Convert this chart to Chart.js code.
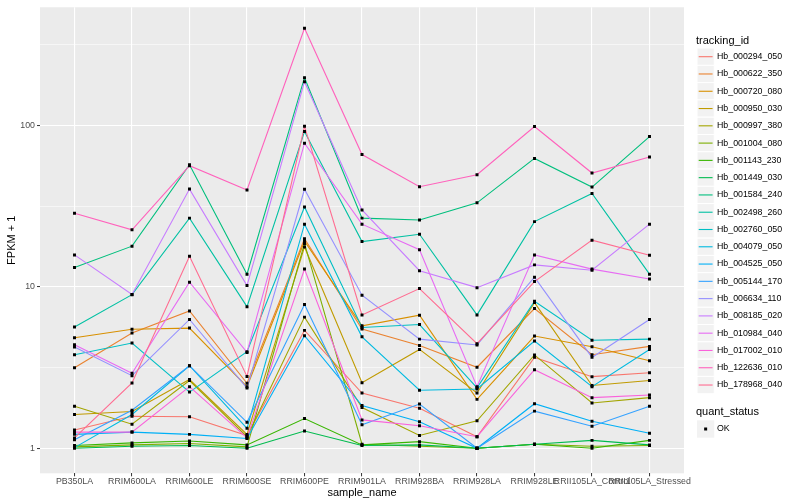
<!DOCTYPE html>
<html>
<head>
<meta charset="utf-8">
<script src="https://cdn.jsdelivr.net/npm/chart.js@4.4.0/dist/chart.umd.min.js"></script>
<style>
  html, body { margin: 0; padding: 0; background: #fff; }
  #wrap { width: 800px; height: 500px; }
</style>
</head>
<body>
<div id="wrap"><canvas id="myChart" width="800" height="500"></canvas></div>
<script>
// samples along the x axis
const categories = ['PB350LA', 'RRIM600LA', 'RRIM600LE', 'RRIM600SE', 'RRIM600PE', 'RRIM901LA',
  'RRIM928BA', 'RRIM928LA', 'RRIM928LE', 'RRII105LA_Control', 'RRII105LA_Stressed'];

const trackingIds = ['Hb_000294_050', 'Hb_000622_350', 'Hb_000720_080', 'Hb_000950_030', 'Hb_000997_380',
  'Hb_001004_080', 'Hb_001143_230', 'Hb_001449_030', 'Hb_001584_240', 'Hb_002498_260',
  'Hb_002760_050', 'Hb_004079_050', 'Hb_004525_050', 'Hb_005144_170', 'Hb_006634_110',
  'Hb_008185_020', 'Hb_010984_040', 'Hb_017002_010', 'Hb_122636_010', 'Hb_178968_040'];

// FPKM + 1, one row per tracking_id, one value per sample
const fpkmPlusOne = [
  [1.30, 1.58, 1.57, 1.20, 5.38, 2.20, 1.77, 1.18, 3.66, 2.78, 2.94],
  [3.16, 5.18, 7.10, 2.53, 19.9, 5.48, 4.34, 3.18, 7.35, 3.80, 4.28],
  [4.84, 5.47, 5.56, 2.41, 19.2, 5.74, 6.68, 2.01, 4.96, 4.26, 3.49],
  [1.62, 1.69, 2.67, 1.22, 17.7, 2.55, 4.10, 2.20, 8.00, 2.45, 2.63],
  [1.82, 1.41, 2.63, 1.18, 6.50, 1.79, 1.20, 1.48, 3.79, 1.91, 2.06],
  [1.02, 1.05, 1.07, 1.02, 18.6, 1.06, 1.03, 1.00, 1.06, 1.03, 1.04],
  [1.04, 1.08, 1.11, 1.05, 1.53, 1.05, 1.10, 1.00, 1.06, 1.00, 1.12],
  [1.00, 1.03, 1.04, 1.00, 1.28, 1.04, 1.05, 1.00, 1.06, 1.12, 1.05],
  [13.2, 17.9, 57.2, 12.0, 198, 26.7, 26.0, 33.2, 62.6, 41.6, 85.5],
  [5.64, 8.96, 26.7, 7.55, 91.8, 19.1, 21.2, 6.71, 25.4, 38.0, 12.0],
  [3.80, 4.49, 2.23, 3.97, 31.3, 5.61, 5.85, 2.37, 8.16, 4.67, 4.75],
  [1.01, 1.62, 3.25, 1.33, 24.5, 4.91, 2.29, 2.33, 4.62, 2.41, 4.10],
  [1.22, 1.26, 1.22, 1.15, 4.99, 1.84, 1.46, 1.00, 1.89, 1.47, 1.24],
  [1.13, 1.72, 3.25, 1.45, 7.78, 1.40, 1.88, 1.00, 1.70, 1.37, 1.82],
  [4.24, 2.82, 6.29, 2.36, 40.3, 8.89, 4.75, 4.37, 11.5, 3.66, 6.28],
  [15.8, 8.97, 40.4, 10.2, 187, 30.0, 12.6, 9.90, 13.7, 12.7, 24.5],
  [4.38, 2.92, 10.7, 3.93, 77.8, 24.5, 17.0, 2.41, 15.8, 12.9, 11.2],
  [1.26, 1.26, 2.41, 1.16, 12.9, 1.50, 1.38, 1.18, 3.07, 2.06, 2.14],
  [28.6, 22.6, 56.4, 39.9, 401, 66.2, 41.8, 49.6, 98.6, 50.8, 63.8],
  [1.16, 2.54, 15.5, 2.79, 99.0, 6.71, 9.77, 4.45, 10.8, 19.5, 15.7]
];

const quantStatus = ['OK'];

// log axis: labelled breaks and the minor breaks between them
const yTickLabels = [1, 10, 100];
const yMinorBreaks = [3.162, 31.62, 316.2];

const lineColors = ['#F8766D', '#EA8331', '#D89000', '#C09B00', '#A3A500', '#7CAE00', '#39B600', '#00BB4E',
  '#00BF7D', '#00C1A3', '#00BFC4', '#00BAE0', '#00B0F6', '#35A2FF', '#9590FF', '#C77CFF',
  '#E76BF3', '#FA62DB', '#FF62BC', '#FF6C91'];

const FONT = '"Liberation Sans", Arial, Helvetica, sans-serif';

const ggPanel = {
  id: 'ggPanel',
  beforeDraw(chart) {
    const { ctx, chartArea: a } = chart;
    ctx.save();
    ctx.fillStyle = '#EBEBEB';
    ctx.fillRect(a.left, a.top, a.right - a.left, a.bottom - a.top);
    ctx.restore();
  }
};

const ggLegend = {
  id: 'ggLegend',
  afterDraw(chart) {
    const ctx = chart.ctx;
    const key = 17.28;
    const kx = 697;
    ctx.save();
    ctx.textBaseline = 'middle';
    ctx.textAlign = 'left';
    ctx.fillStyle = '#000';
    ctx.font = '11px ' + FONT;
    ctx.fillText('tracking_id', 696, 41);
    trackingIds.forEach(function (id, i) {
      const cy = 56.7 + i * key;
      ctx.fillStyle = '#F2F2F2';
      ctx.fillRect(kx, cy - key / 2, key, key);
      ctx.strokeStyle = '#fff';
      ctx.lineWidth = 1;
      ctx.strokeRect(kx, cy - key / 2, key, key);
      ctx.strokeStyle = lineColors[i];
      ctx.lineWidth = 1.1;
      ctx.beginPath();
      ctx.moveTo(kx + 1.7, cy);
      ctx.lineTo(kx + key - 1.7, cy);
      ctx.stroke();
      ctx.fillStyle = '#000';
      ctx.font = '8.8px ' + FONT;
      ctx.fillText(id, 717, cy);
    });

    ctx.font = '11px ' + FONT;
    ctx.fillText('quant_status', 696, 412);
    quantStatus.forEach(function (s, i) {
      const cy = 429 + i * key;
      ctx.fillStyle = '#F2F2F2';
      ctx.fillRect(kx, cy - key / 2, key, key);
      ctx.fillStyle = '#000';
      ctx.fillRect(kx + key / 2 - 1.5, cy - 1.5, 3, 3);
      ctx.font = '8.8px ' + FONT;
      ctx.fillText(s, 717, cy);
    });
    ctx.restore();
  }
};

const lineSets = trackingIds.map(function (id, i) {
  return {
    label: id,
    data: fpkmPlusOne[i].map(function (v, j) { return { x: j, y: v }; }),
    borderColor: lineColors[i],
    borderWidth: 1.1,
    pointRadius: 0,
    fill: false,
    tension: 0,
    order: trackingIds.length - i + 1
  };
});

const pointSet = {
  label: quantStatus[0],
  data: fpkmPlusOne.flatMap(function (row) {
    return row.map(function (v, j) { return { x: j, y: v }; });
  }),
  showLine: false,
  pointStyle: 'rect',
  pointRadius: 2.1,
  pointBackgroundColor: '#000',
  pointBorderWidth: 0,
  order: 0
};

function isLabelled(v) {
  return yTickLabels.some(function (t) { return Math.abs(t - v) < 1e-6; });
}

const ctx = document.getElementById('myChart');
const myChart = new Chart(ctx, {
  type: 'line',
  data: { datasets: lineSets.concat([pointSet]) },
  options: {
    responsive: false,
    animation: false,
    layout: { padding: { top: 3.3, right: 116, left: 0, bottom: 0 } },
    plugins: { legend: { display: false }, tooltip: { enabled: false } },
    scales: {
      x: {
        type: 'linear',
        min: -0.6,
        max: categories.length - 0.4,
        afterBuildTicks: function (s) {
          s.ticks = categories.map(function (c, i) { return { value: i }; });
        },
        afterFit: function (s) { s.height = 26.7; },
        ticks: {
          autoSkip: false, maxRotation: 0, minRotation: 0, padding: 0,
          color: '#4D4D4D', font: { family: FONT, size: 8.8 },
          callback: function (v) { return categories[v]; }
        },
        grid: { color: '#fff', lineWidth: 1.1, tickLength: 3, tickColor: '#333', tickWidth: 1 },
        border: { display: false },
        title: { display: true, text: 'sample_name', color: '#000', font: { family: FONT, size: 11 },
          padding: { top: 0, bottom: 0.5 } }
      },
      y: {
        type: 'logarithmic',
        min: 0.741,
        max: 541,
        afterBuildTicks: function (s) {
          s.ticks = yTickLabels.concat(yMinorBreaks).sort(function (a, b) { return a - b; })
            .map(function (v) { return { value: v }; });
        },
        afterFit: function (s) { s.width = 40; },
        ticks: {
          autoSkip: false, padding: 2,
          color: '#4D4D4D', font: { family: FONT, size: 8.8 },
          callback: function (v) { return isLabelled(v) ? String(v) : ''; }
        },
        grid: {
          color: '#fff',
          lineWidth: function (c) { return c.tick && isLabelled(c.tick.value) ? 1.1 : 0.55; },
          tickLength: 3,
          tickWidth: 1,
          tickColor: function (c) { return c.tick && isLabelled(c.tick.value) ? '#333' : 'rgba(0,0,0,0)'; }
        },
        border: { display: false },
        title: { display: true, text: 'FPKM + 1', color: '#000', font: { family: FONT, size: 11 },
          padding: { top: 5, bottom: 5 } }
      }
    }
  },
  plugins: [ggPanel, ggLegend]
});
</script>
</body>
</html>
